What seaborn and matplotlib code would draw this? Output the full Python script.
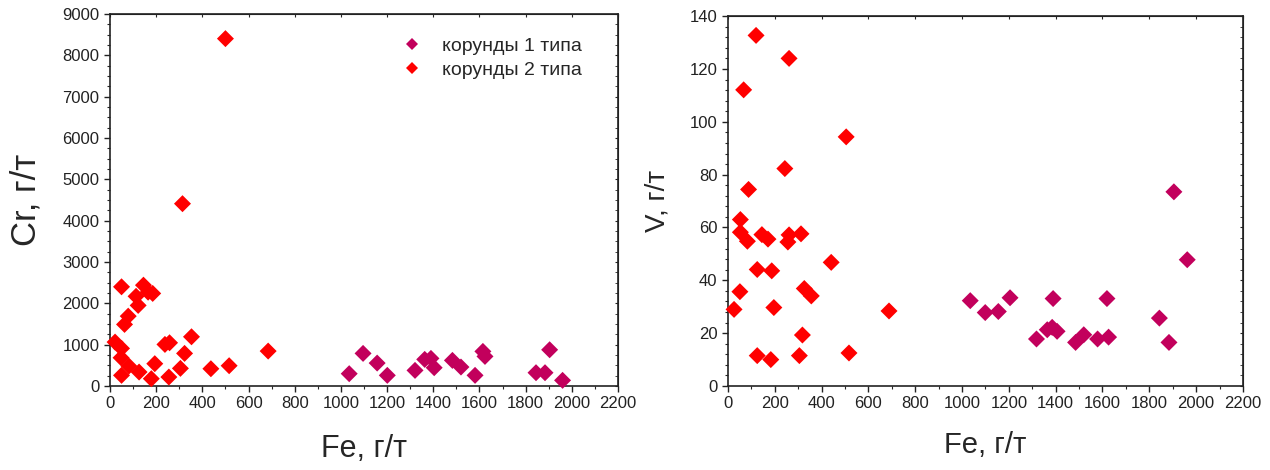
import matplotlib
matplotlib.use("Agg")
import matplotlib.pyplot as plt
import pandas as pd
import seaborn as sns
from matplotlib.ticker import MultipleLocator

# Cr vs Fe
fe_cr_1 = [1036, 1096, 1157, 1201, 1321, 1363, 1390, 1404, 1483, 1520, 1581, 1615, 1624, 1845, 1884, 1904, 1960]
cr_1 = [298, 789, 555, 258, 378, 644, 668, 443, 620, 459, 258, 837, 716, 322, 322, 877, 137]
fe_cr_2 = [50, 145, 165, 185, 113, 122, 79, 63, 22, 50, 48, 82, 50, 126, 179, 194, 238, 258,
           255, 305, 323, 353, 314, 500, 437, 516, 685]
cr_2 = [2400, 2440, 2270, 2240, 2170, 1950, 1690, 1490, 1063, 910, 684, 483, 258, 338, 177, 540,
        1006, 1046, 217, 427, 789, 1191, 4411, 8404, 418, 491, 845]

# V vs Fe
fe_v_1 = [1035, 1099, 1155, 1205, 1318, 1364, 1385, 1389, 1406, 1485, 1520, 1579, 1619, 1626,
          1843, 1884, 1905, 1962]
v_1 = [32.3, 27.8, 28.2, 33.4, 17.8, 21.3, 22.2, 33.1, 20.7, 16.5, 19.4, 17.8, 33.1, 18.5,
       25.7, 16.5, 73.5, 47.8]
fe_v_2 = [120, 261, 67, 505, 243, 88, 53, 53, 83, 145, 171, 256, 261, 312, 125, 187, 441, 51,
          326, 356, 26, 196, 688, 318, 125, 183, 305, 517]
v_2 = [132.7, 124.0, 112.1, 94.3, 82.3, 74.4, 63.0, 58.2, 54.8, 57.3, 55.6, 54.5, 57.2, 57.6,
       44.1, 43.6, 46.8, 35.7, 36.9, 34.1, 29.0, 29.7, 28.4, 19.3, 11.5, 10.0, 11.5, 12.5]

type_names = ['корунды 1 типа', 'корунды 2 типа']
palette = {type_names[0]: '#C2005C', type_names[1]: '#FF0000'}

df_cr = pd.DataFrame({
    'Fe': fe_cr_1 + fe_cr_2,
    'val': cr_1 + cr_2,
    'type': [type_names[0]] * len(fe_cr_1) + [type_names[1]] * len(fe_cr_2),
})
df_v = pd.DataFrame({
    'Fe': fe_v_1 + fe_v_2,
    'val': v_1 + v_2,
    'type': [type_names[0]] * len(fe_v_1) + [type_names[1]] * len(fe_v_2),
})

sns.set_style("ticks")
plt.rcParams['font.family'] = ['Liberation Sans', 'DejaVu Sans']

fig = plt.figure(figsize=(12.7, 4.7), dpi=100)
ax1 = fig.add_axes([0.0866, 0.1787, 0.400, 0.7915])
ax2 = fig.add_axes([0.5732, 0.1787, 0.4055, 0.787])


def style_axis(ax, ymax, ystep, yminor, ylabel, ylabel_size, xlabel_size, xpad):
    ax.set_xlim(0, 2200)
    ax.set_ylim(0, ymax)
    ax.xaxis.set_major_locator(MultipleLocator(200))
    ax.xaxis.set_minor_locator(MultipleLocator(100))
    ax.yaxis.set_major_locator(MultipleLocator(ystep))
    ax.yaxis.set_minor_locator(MultipleLocator(yminor))
    ax.tick_params(which='major', direction='out', length=4, width=1, labelsize=12, colors='#222222')
    ax.tick_params(which='minor', direction='out', length=2.5, width=0.8)
    for s in ax.spines.values():
        s.set_visible(True)
        s.set_color('#222222')
        s.set_linewidth(1.2)
    ax.set_xlabel('Fe, г/т', fontsize=xlabel_size, labelpad=xpad)
    ax.set_ylabel(ylabel, fontsize=ylabel_size, labelpad=14)
    # mirrored inner ticks on right/top
    sec_y = ax.secondary_yaxis('right')
    sec_y.yaxis.set_major_locator(MultipleLocator(ystep))
    sec_y.yaxis.set_minor_locator(MultipleLocator(yminor))
    sec_y.tick_params(which='both', direction='in', labelright=False, length=2.5)
    sec_x = ax.secondary_xaxis('top')
    sec_x.xaxis.set_major_locator(MultipleLocator(200))
    sec_x.tick_params(which='both', direction='in', labeltop=False, length=2.5)


sns.scatterplot(data=df_cr, x='Fe', y='val', hue='type', palette=palette, marker='D',
                s=75, linewidth=0, ax=ax1, clip_on=False, zorder=3)
style_axis(ax1, 9000, 1000, 250, 'Cr, г/т', 25, 22, 16)
ax1.legend(loc='upper right', bbox_to_anchor=(0.955, 0.975), frameon=False, fontsize=14,
           markerscale=0.7, handletextpad=0.5, labelspacing=0.35, borderaxespad=0.3)

sns.scatterplot(data=df_v, x='Fe', y='val', hue='type', palette=palette, marker='D',
                s=75, linewidth=0, ax=ax2, clip_on=False, zorder=3, legend=False)
style_axis(ax2, 140, 20, 4, 'V, г/т', 20, 21, 14)

fig.savefig('out.png', dpi=100)
